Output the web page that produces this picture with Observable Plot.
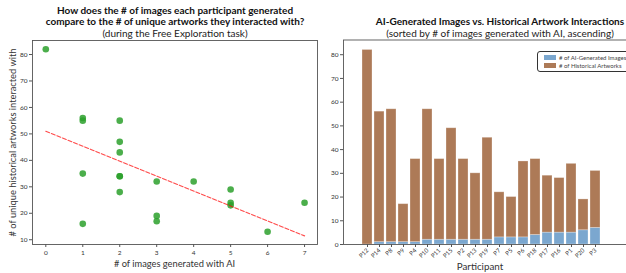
<!DOCTYPE html>
<html>
<head>
<meta charset="utf-8">
<script src="https://cdn.jsdelivr.net/npm/d3@7"></script>
<script src="https://cdn.jsdelivr.net/npm/@observablehq/plot@0.6"></script>
<style>
  html, body { margin: 0; padding: 0; background: #fff; overflow: hidden; }
  #root { position: relative; width: 626px; height: 273px; overflow: hidden; font-family: Lato, "DejaVu Sans", sans-serif; color: #222; }
  .abs { position: absolute; white-space: nowrap; }
  .title { font-weight: bold; font-size: 10px; line-height: 11.5px; text-align: center; color: #111; }
  .sub { font-size: 10px; line-height: 11.5px; text-align: center; color: #222; }
  .axlab { font-size: 9.3px; color: #333; }
  .legend { border: 1px solid #333; border-radius: 3px; background: #fff; font-size: 6px; color: #444; padding: 2px 14px 2px 6px; }
  .legend .row { display: flex; align-items: center; height: 7.5px; }
  .legend .sw { width: 12px; height: 5px; margin-right: 3px; }
</style>
</head>
<body>
<div id="root"></div>
<script>
// ---- data ----
const participants = ["P12","P14","P8","P9","P4","P10","P11","P15","P2","P13","P19","P7","P5","P6","P18","P17","P16","P1","P20","P3"];
const aiImages     = [0, 1, 1, 1, 1, 2, 2, 2, 2, 2, 2, 3, 3, 3, 4, 5, 5, 5, 6, 7];
const historical   = [82, 55, 56, 16, 35, 55, 34, 47, 34, 28, 43, 19, 17, 32, 32, 24, 23, 29, 13, 24];
const seriesNames  = ["# of AI-Generated Images", "# of Historical Artworks"];
const yTicksLeft   = [10, 20, 30, 40, 50, 60, 70, 80];
const xTicksLeft   = [0, 1, 2, 3, 4, 5, 6, 7];
const yTicksRight  = [0, 10, 20, 30, 40, 50, 60, 70, 80];

const colorAI = "#7ba7cf";
const colorHist = "#ad7a57";
const green = "#2ca02c";

const rows = participants.map((p, i) => ({p, ai: aiImages[i], hist: historical[i]}));
const long = [];
rows.forEach(d => long.push({p: d.p, series: seriesNames[0], value: d.ai}));
rows.forEach(d => long.push({p: d.p, series: seriesNames[1], value: d.hist}));

const root = document.getElementById("root");
function addDiv(cls, html, style) {
  const el = document.createElement("div");
  el.className = "abs " + cls;
  el.innerHTML = html;
  Object.assign(el.style, style);
  root.appendChild(el);
  return el;
}

// ---- left: scatter ----
const left = Plot.plot({
  width: 320, height: 273,
  marginTop: 40, marginBottom: 29, marginLeft: 32, marginRight: 3,
  style: {fontFamily: "Lato, 'DejaVu Sans', sans-serif", background: "transparent"},
  x: {domain: [-0.36, 7.35], ticks: xTicksLeft},
  y: {domain: [8.2, 85.3], ticks: yTicksLeft},
  marks: [
    Plot.axisX({ticks: xTicksLeft, tickSize: 3, tickPadding: 3, fontSize: 6.5, stroke: "#555", color: "#333", label: null, tickFormat: d => String(d)}),
    Plot.axisY({ticks: yTicksLeft, tickSize: 3, tickPadding: 2, fontSize: 6.5, stroke: "#555", color: "#333", label: null}),
    Plot.dot(rows, {x: "ai", y: "hist", r: 3.3, fill: green, fillOpacity: 0.85, stroke: "none"}),
    Plot.linearRegressionY(rows, {x: "ai", y: "hist", stroke: "#ff0000", strokeOpacity: 0.7, strokeWidth: 1.2, strokeDasharray: "4,2", ci: 0}),
    Plot.frame({stroke: "#555", strokeWidth: 0.9})
  ]
});
left.style.position = "absolute"; left.style.left = "0px"; left.style.top = "0px";
root.appendChild(left);

// ---- right: stacked bars ----
const right = Plot.plot({
  width: 310, height: 273,
  marginTop: 39.5, marginBottom: 29, marginLeft: 23, marginRight: 2,
  style: {fontFamily: "Lato, 'DejaVu Sans', sans-serif", background: "transparent"},
  x: {domain: participants, range: [34.7, 287.3], paddingInner: 0.15, paddingOuter: 0.075},
  y: {domain: [0, 86.2], ticks: yTicksRight},
  color: {domain: seriesNames, range: [colorAI, colorHist]},
  marks: [
    Plot.barY(long, {x: "p", y: "value", fill: "series", stroke: "#fff", strokeOpacity: 0.35, strokeWidth: 0.8}),
    Plot.axisX({tickSize: 3, tickPadding: 2, fontSize: 6, tickRotate: -45, stroke: "#555", color: "#333", label: null}),
    Plot.axisY({ticks: yTicksRight, tickSize: 3, tickPadding: 2, fontSize: 6.5, stroke: "#555", color: "#333", label: null}),
    Plot.frame({stroke: "#555", strokeWidth: 0.9})
  ]
});
right.style.position = "absolute"; right.style.left = "320px"; right.style.top = "0px";
root.appendChild(right);

// ---- titles ----
addDiv("title", "How does the # of images each participant generated<br>compare to the # of unique artworks they interacted with?", {left: "0px", width: "350px", top: "4.5px"});
addDiv("sub", "(during the Free Exploration task)", {left: "0px", width: "350px", top: "27.5px"});
addDiv("title", "AI-Generated Images vs. Historical Artwork Interactions", {left: "342px", width: "316px", top: "16px"});
addDiv("sub", "(sorted by # of images generated with AI, ascending)", {left: "342px", width: "316px", top: "27.5px"});

// ---- axis labels ----
addDiv("axlab", "# of images generated with AI", {left: "32px", width: "285px", textAlign: "center", top: "258px"});
addDiv("axlab", "# of unique historical artworks interacted with", {left: "-93px", top: "137px", width: "210px", textAlign: "center", transform: "rotate(-90deg)"});
addDiv("axlab", "Participant", {left: "430px", width: "100px", textAlign: "center", top: "260px", fontSize: "9.8px"});

// ---- legend ----
addDiv("legend", seriesNames.map((s, i) => `<div class="row"><div class="sw" style="background:${[colorAI, colorHist][i]}"></div>${s}</div>`).join(""), {left: "537px", top: "51px"});
</script>
</body>
</html>
